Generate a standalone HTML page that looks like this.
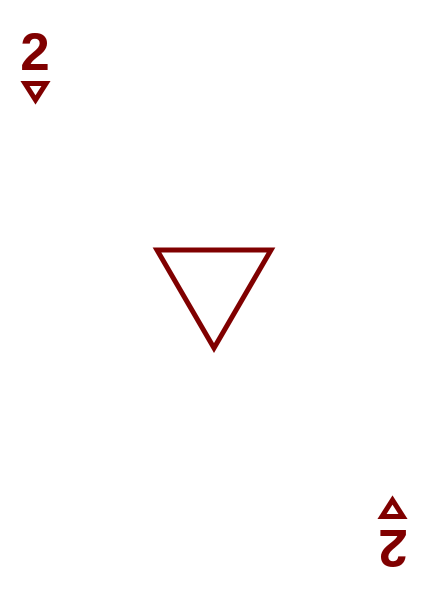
<!DOCTYPE html>
<html><head><meta charset="utf-8"><style>
html,body{margin:0;padding:0;background:#fff;}
svg{display:block;}
</style></head><body>
<svg width="428" height="600" viewBox="0 0 428 600">
<rect x="0" y="0" width="428" height="600" fill="#fff"/>
<g>
<text x="35" y="70" text-anchor="middle" font-family="Liberation Sans, sans-serif" font-weight="bold" font-size="53" fill="#800000">2</text>
<polygon points="25,83.5 46,83.5 35.5,100" fill="none" stroke="#800000" stroke-width="5"/>
</g>
<g transform="rotate(180 214 300)">
<text x="35" y="70" text-anchor="middle" font-family="Liberation Sans, sans-serif" font-weight="bold" font-size="53" fill="#800000">2</text>
<polygon points="25,83.5 46,83.5 35.5,100" fill="none" stroke="#800000" stroke-width="5"/>
</g>
<polygon points="157,250 271,250 214,348" fill="none" stroke="#800000" stroke-width="5"/>
</svg>
</body></html>
